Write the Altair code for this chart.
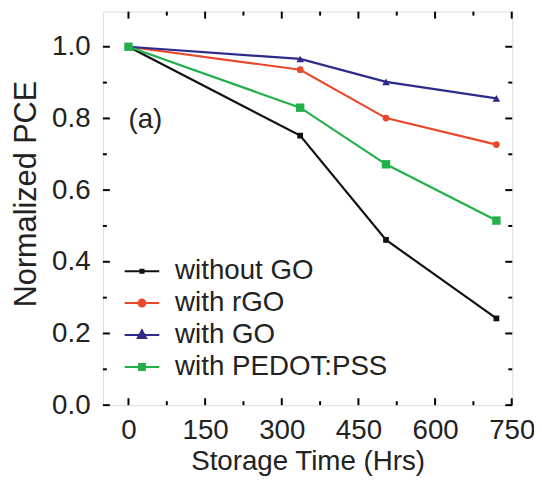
import altair as alt
import pandas as pd

# ---- data ----
hours = [0, 336, 504, 720]
series_names = ["without GO", "with rGO", "with GO", "with PEDOT:PSS"]
without_go = [1.0, 0.752, 0.461, 0.242]
with_rgo = [1.0, 0.936, 0.801, 0.727]
with_go = [1.0, 0.966, 0.902, 0.856]
with_pedot = [1.0, 0.830, 0.672, 0.515]
colors = ["#111111", "#e8482a", "#2e2a8a", "#22b04b"]
shapes = ["square", "circle", "triangle-up", "square"]
sizes = [34, 72, 90, 70]

# legend symbols: a short line with the series marker on it
LINE = "M-1.13,0H1.13"
legend_paths = [
    LINE + "M-0.1,-0.1H0.1V0.1H-0.1Z",
    LINE + "M0.23,0A0.23,0.23 0 1,1 -0.23,0A0.23,0.23 0 1,1 0.23,0Z",
    LINE + "M0,-0.3L0.27,0.2H-0.27Z",
    LINE + "M-0.19,-0.19H0.19V0.19H-0.19Z",
]

x_major = [0, 150, 300, 450, 600, 750]
x_minor = [75, 225, 375, 525, 675]
y_major = [0.0, 0.2, 0.4, 0.6, 0.8, 1.0]
y_minor = [0.1, 0.3, 0.5, 0.7, 0.9]

W, H = 414, 398
FONT = "Liberation Sans"
FS = 28
TXT = "#222222"

rows = []
for name, vals in zip(series_names, [without_go, with_rgo, with_go, with_pedot]):
    for h, v in zip(hours, vals):
        rows.append({"hours": h, "pce": v, "series": name})
df = pd.DataFrame(rows)

xs = alt.Scale(domain=[-50, 751], nice=False, zero=False)
ys = alt.Scale(domain=[0, 1.098], nice=False, zero=False)

xaxis = alt.Axis(values=x_major, title="Storage Time (Hrs)", ticks=False, domain=False,
                 grid=False, labelFontSize=FS, labelFont=FONT, labelColor=TXT,
                 labelPadding=12, titleFontSize=FS, titleFont=FONT, titleColor=TXT,
                 titleFontWeight="normal", titleBaseline="alphabetic", titleY=65,
                 labelFlush=False)
yaxis = alt.Axis(values=y_major, format=".1f", title="Normalized PCE", ticks=False,
                 domain=False, grid=False, labelFontSize=FS, labelFont=FONT,
                 labelColor=TXT, labelPadding=13, titleFontSize=31, titleFont=FONT,
                 titleColor=TXT, titleFontWeight="normal", titleAngle=-90,
                 titleX=-77, titleY=184, titleAlign="center", titleBaseline="middle")

lines = alt.Chart(df).mark_line(strokeWidth=2.2).encode(
    x=alt.X("hours:Q", scale=xs, axis=xaxis),
    y=alt.Y("pce:Q", scale=ys, axis=yaxis),
    color=alt.Color("series:N", scale=alt.Scale(domain=series_names, range=colors),
                    legend=None),
)

points = alt.Chart(df).mark_point(filled=True, opacity=1, strokeWidth=0).encode(
    x=alt.X("hours:Q", scale=xs),
    y=alt.Y("pce:Q", scale=ys),
    shape=alt.Shape("series:N", scale=alt.Scale(domain=series_names, range=shapes),
                    legend=None),
    fill=alt.Fill("series:N", scale=alt.Scale(domain=series_names, range=colors),
                  legend=None),
    size=alt.Size("series:N", scale=alt.Scale(domain=series_names, range=sizes),
                  legend=None),
)

leg = alt.Legend(orient="none", legendX=23, legendY=246, title=None,
                 symbolSize=961, symbolStrokeWidth=2, symbolOpacity=1,
                 labelFontSize=FS, labelFont=FONT, labelColor=TXT, labelOffset=17,
                 rowPadding=1.3, padding=0, labelLimit=400)

legend_layer = alt.Chart(df).transform_calculate(
    series_c="datum.series"
).transform_filter("datum.hours < 0").mark_point(filled=True, strokeWidth=2).encode(
    x=alt.X("hours:Q", scale=xs),
    y=alt.Y("pce:Q", scale=ys),
    shape=alt.Shape("series_c:N", scale=alt.Scale(domain=series_names, range=legend_paths),
                    legend=leg),
    fill=alt.Fill("series_c:N", scale=alt.Scale(domain=series_names, range=colors),
                  legend=leg),
    stroke=alt.Stroke("series_c:N", scale=alt.Scale(domain=series_names, range=colors),
                      legend=leg),
)

ann = alt.Chart(pd.DataFrame({"x": [0], "y": [0.795], "t": ["(a)"]})).mark_text(
    align="left", baseline="middle", fontSize=FS, font=FONT, color=TXT
).encode(x=alt.X("x:Q", scale=xs), y=alt.Y("y:Q", scale=ys), text="t:N")


def xticks(vals, length, top):
    d = pd.DataFrame({"v": vals})
    if top:
        return alt.Chart(d).mark_rule(color="black", strokeWidth=2).encode(
            x=alt.X("v:Q", scale=xs), y=alt.value(0), y2=alt.value(length))
    return alt.Chart(d).mark_rule(color="black", strokeWidth=2).encode(
        x=alt.X("v:Q", scale=xs), y=alt.value(H), y2=alt.value(H - length))


def yticks(vals, length, right):
    d = pd.DataFrame({"v": vals})
    if right:
        return alt.Chart(d).mark_rule(color="black", strokeWidth=2).encode(
            y=alt.Y("v:Q", scale=ys), x=alt.value(W), x2=alt.value(W - length))
    return alt.Chart(d).mark_rule(color="black", strokeWidth=2).encode(
        y=alt.Y("v:Q", scale=ys), x=alt.value(0), x2=alt.value(length))


ticks = [xticks(x_major, 7, False), xticks(x_minor, 4, False),
         xticks(x_major, 7, True), xticks(x_minor, 4, True),
         yticks(y_major, 7, False), yticks(y_minor, 4, False),
         yticks(y_major, 7, True), yticks(y_minor, 4, True)]

chart = alt.layer(lines, points, legend_layer, ann, *ticks).resolve_scale(
    shape="independent", fill="independent", stroke="independent"
).resolve_legend(
    shape="independent", fill="independent", stroke="independent"
).properties(
    width=W, height=H,
    autosize=alt.AutoSizeParams(type="none"),
    padding={"left": 96, "top": 1, "right": 22, "bottom": 70},
).configure_view(stroke="black", strokeWidth=2).configure(background="white")

chart.save("out.html", embed_options={"renderer": "svg", "actions": False})
